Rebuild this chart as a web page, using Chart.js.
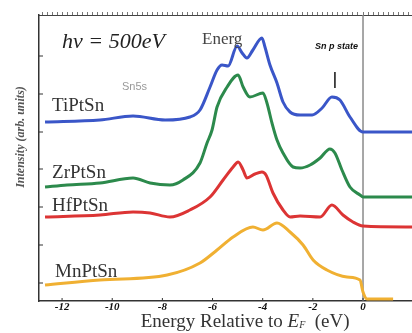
<!DOCTYPE html>
<html>
<head>
<meta charset="utf-8">
<script src="https://cdn.jsdelivr.net/npm/chart.js@4"></script>
<style>
  html, body { margin: 0; padding: 0; background: #fff; overflow: hidden; }
</style>
</head>
<body>
<canvas id="spectra" width="440" height="333"></canvas>
<script>
// energy axis (eV relative to E_F) and intensity (arb. units, stacked offsets)
const xTicks = [-12, -10, -8, -6, -4, -2, 0];
const yTicks = [18, 56, 94, 132, 169, 207, 245];

const tiEnergy = [-12.68, -10.49, -9.17, -7.89, -6.90, -6.50, -6.10, -5.82, -5.62, -5.38, -5.02, -4.82, -4.63, -4.39, -4.03, -3.91, -3.71, -3.43, -3.19, -2.91, -2.51, -2.03, -1.63, -1.24, -0.92, -0.52, 0, 2.0];
const tiIntensity = [179, 181, 185, 181, 184, 191, 214, 231, 236, 235, 255, 248, 243, 251, 263, 254, 236, 218, 199, 189, 186, 186, 193, 204, 201, 184, 169, 169];

const zrEnergy = [-12.68, -11.80, -10.49, -9.17, -8.49, -7.70, -7.18, -6.50, -6.22, -6.02, -5.82, -5.42, -4.98, -4.78, -4.51, -3.99, -3.83, -3.63, -3.43, -3.19, -2.79, -2.51, -2.11, -1.71, -1.32, -1.12, -0.84, -0.52, -0.12, 0, 2.0];
const zrIntensity = [114, 116, 118, 123, 118, 116, 121, 138, 158, 171, 194, 214, 226, 214, 204, 208, 198, 178, 161, 148, 134, 133, 136, 143, 152, 148, 131, 114, 106, 104, 104];

const hfEnergy = [-12.68, -10.49, -9.17, -8.49, -7.70, -6.90, -6.10, -5.58, -5.18, -4.98, -4.78, -4.63, -4.31, -4.03, -3.87, -3.59, -3.19, -2.91, -2.51, -1.71, -1.24, -0.80, -0.40, 0, 2.0];
const hfIntensity = [84, 86, 89, 88, 84, 91, 104, 121, 134, 139, 131, 123, 127, 129, 126, 108, 91, 84, 85, 84, 96, 86, 79, 75, 74];

const mnEnergy = [-12.68, -10.49, -7.81, -6.50, -5.82, -5.18, -4.39, -3.99, -3.43, -2.91, -2.39, -1.99, -1.44, -0.64, -0.12, 0, 0.16, 1.20];
const mnIntensity = [16, 21, 26, 38, 51, 64, 74, 71, 78, 69, 56, 41, 31, 24, 21, 9, 2, 2];

const seriesNames = ['TiPtSn', 'ZrPtSn', 'HfPtSn', 'MnPtSn'];
const seriesColors = ['#3a56c8', '#2c8a4c', '#dc3434', '#f0b032'];

const notes = [
  { text: 'TiPtSn', e: -12.4, v: 195, font: '19px "Liberation Serif"', color: '#333' },
  { text: 'ZrPtSn', e: -12.4, v: 128, font: '19px "Liberation Serif"', color: '#333' },
  { text: 'HfPtSn', e: -12.4, v: 95, font: '19px "Liberation Serif"', color: '#333' },
  { text: 'MnPtSn', e: -12.28, v: 29, font: '19px "Liberation Serif"', color: '#333' },
  { text: 'h\u03bd = 500eV', e: -12.0, v: 259, font: 'italic 22px "Liberation Serif"', color: '#222' },
  { text: 'Energ', e: -6.42, v: 261, font: '17px "Liberation Serif"', color: '#444' },
  { text: 'Sn p state', e: -1.91, v: 254, font: 'bold italic 9px "Liberation Sans"', color: '#111' },
  { text: 'Sn5s', e: -9.61, v: 214, font: '11px "Liberation Sans"', color: '#999' }
];

function toPoints(es, vs) {
  return es.map((e, i) => ({ x: e, y: vs[i] }));
}

const decor = {
  id: 'decor',
  beforeDatasetsDraw(chart) {
    const { ctx, chartArea: a, scales: { x, y } } = chart;
    ctx.save();
    // Fermi level
    const x0 = x.getPixelForValue(0);
    ctx.strokeStyle = '#8a8a8a';
    ctx.lineWidth = 1.5;
    ctx.beginPath(); ctx.moveTo(x0, a.top); ctx.lineTo(x0, a.bottom); ctx.stroke();
    // inward ticks
    ctx.strokeStyle = '#333';
    ctx.lineWidth = 1;
    yTicks.forEach(v => {
      const py = y.getPixelForValue(v);
      ctx.beginPath(); ctx.moveTo(a.left, py); ctx.lineTo(a.left + 4, py); ctx.stroke();
    });
    xTicks.forEach(v => {
      const px = x.getPixelForValue(v);
      ctx.beginPath(); ctx.moveTo(px, a.bottom); ctx.lineTo(px, a.bottom - 3); ctx.stroke();
    });
    // Sn p marker
    const xm = x.getPixelForValue(-1.12);
    ctx.strokeStyle = '#111';
    ctx.lineWidth = 1.5;
    ctx.beginPath(); ctx.moveTo(xm, y.getPixelForValue(229)); ctx.lineTo(xm, y.getPixelForValue(213)); ctx.stroke();
    ctx.restore();
  },
  afterDraw(chart) {
    const { ctx, scales: { x, y } } = chart;
    ctx.save();
    ctx.textBaseline = 'middle';
    ctx.textAlign = 'left';
    notes.forEach(n => {
      ctx.font = n.font;
      ctx.fillStyle = n.color;
      ctx.fillText(n.text, x.getPixelForValue(n.e), y.getPixelForValue(n.v));
    });

    // x axis title with E_F
    const parts = [
      { t: 'Energy Relative to ', f: '19px "Liberation Serif"', dy: 0 },
      { t: 'E', f: 'italic 19px "Liberation Serif"', dy: 0 },
      { t: 'F', f: 'italic 10px "Liberation Serif"', dy: 3 },
      { t: '  (eV)', f: '19px "Liberation Serif"', dy: 0 }
    ];
    let w = 0;
    parts.forEach(p => { ctx.font = p.f; w += ctx.measureText(p.t).width; });
    let cx = x.getPixelForValue(-4.7) - w / 2;
    ctx.fillStyle = '#333';
    parts.forEach(p => {
      ctx.font = p.f;
      ctx.fillText(p.t, cx, 322 + p.dy);
      cx += ctx.measureText(p.t).width;
    });

    // y axis title
    ctx.translate(21, 137);
    ctx.rotate(-Math.PI / 2);
    ctx.textAlign = 'center';
    ctx.font = 'bold italic 12px "Liberation Serif"';
    ctx.fillStyle = '#555';
    ctx.fillText('Intensity (arb. units)', 0, 0);
    ctx.restore();
  }
};

new Chart(document.getElementById('spectra').getContext('2d'), {
  type: 'line',
  data: {
    datasets: [
      toPoints(tiEnergy, tiIntensity),
      toPoints(zrEnergy, zrIntensity),
      toPoints(hfEnergy, hfIntensity),
      toPoints(mnEnergy, mnIntensity)
    ].map((pts, i) => ({
      label: seriesNames[i],
      data: pts,
      borderColor: seriesColors[i],
      borderWidth: 3,
      pointRadius: 0,
      cubicInterpolationMode: 'monotone',
      fill: false
    }))
  },
  options: {
    responsive: false,
    devicePixelRatio: 1,
    animation: false,
    layout: { padding: 0 },
    plugins: {
      legend: { display: false },
      tooltip: { enabled: false }
    },
    scales: {
      x: {
        type: 'linear',
        position: 'bottom',
        min: -12.92,
        max: 3.07,
        afterBuildTicks: axis => { axis.ticks = xTicks.map(v => ({ value: v })); },
        afterFit: axis => { axis.height = 32; },
        grid: { display: false, drawTicks: false },
        border: { display: true, color: '#333', width: 1.5 },
        ticks: {
          padding: 0,
          color: '#111',
          font: { family: 'Liberation Serif', size: 11, style: 'italic', weight: 'bold' }
        }
      },
      x2: {
        type: 'linear',
        position: 'top',
        min: -12.92,
        max: 3.07,
        afterBuildTicks: axis => {
          const t = [];
          for (let v = -12.8; v <= 3; v += 0.2) t.push({ value: +v.toFixed(1) });
          axis.ticks = t;
        },
        afterFit: axis => { axis.height = 15; },
        grid: { drawOnChartArea: false, tickLength: 3, color: '#777' },
        border: { display: true, color: '#444', width: 1 },
        ticks: { display: false }
      },
      y: {
        min: 0,
        max: 286,
        afterFit: axis => { axis.width = 39; },
        grid: { display: false },
        border: { display: true, color: '#333', width: 1.5 },
        ticks: { display: false }
      }
    }
  },
  plugins: [decor]
});
</script>
</body>
</html>
